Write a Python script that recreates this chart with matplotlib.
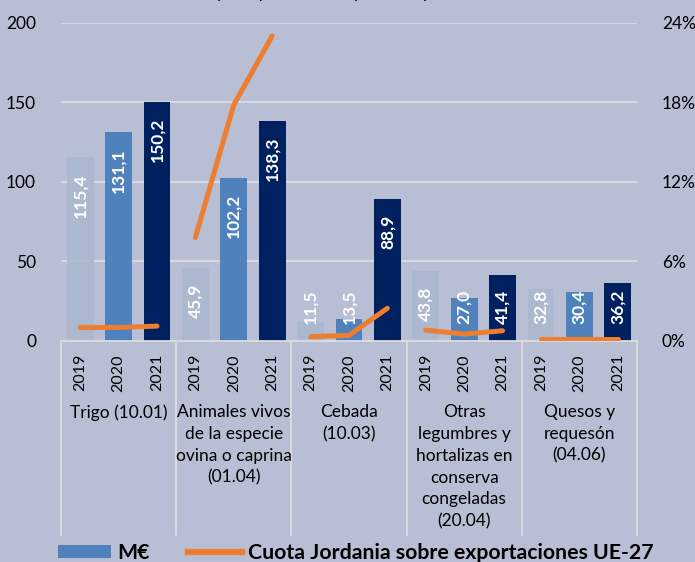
import numpy as np
import matplotlib.pyplot as plt
from matplotlib.patches import Patch
from matplotlib.lines import Line2D
import matplotlib.transforms as mtransforms

plt.rcParams['font.family'] = ['Lato', 'DejaVu Sans']

# datos
categorias = ["Trigo (10.01)",
              "Animales vivos\nde la especie\novina o caprina\n(01.04)",
              "Cebada\n(10.03)",
              "Otras\nlegumbres y\nhortalizas en\nconserva\ncongeladas\n(20.04)",
              "Quesos y\nrequesón\n(04.06)"]
anios = ["2019", "2020", "2021"]
v2019 = [115.4, 45.9, 11.5, 43.8, 32.8]
v2020 = [131.1, 102.2, 13.5, 27.0, 30.4]
v2021 = [150.2, 138.3, 88.9, 41.4, 36.2]
cuota = [[1.0, 1.0, 1.1],
         [7.8, 17.8, 23.0],
         [0.3, 0.4, 2.45],
         [0.8, 0.5, 0.75],
         [0.1, 0.1, 0.1]]

fondo = '#b8bed3'
colores = ['#a9b7cc', '#4f81bd', '#002060']
naranja = '#ed7d31'
gris = '#dcdcdc'

fig = plt.figure(figsize=(6.95, 5.62), dpi=100)
fig.patch.set_facecolor(fondo)
ax = fig.add_axes([0.0878, 0.3938, 0.8287, 0.5658])
ax.set_facecolor(fondo)

n = len(categorias)
x = np.arange(n)
off = np.array([-1/3, 0, 1/3])
w = 0.232

for k, vals in enumerate([v2019, v2020, v2021]):
    xs = x + off[k]
    ax.bar(xs, vals, width=w, color=colores[k], zorder=2,
           alpha=0.85 if k == 0 else 1)
    for xi, v in zip(xs, vals):
        ytop = max(v - 10.0, 32.0)
        ax.text(xi, ytop, f"{v:.1f}".replace('.', ','), rotation=90,
                ha='center', va='top', color='white', fontsize=12.5,
                fontweight='bold', zorder=4)

ax.set_xlim(-0.5, n - 0.5)
ax.set_ylim(0, 200)
ax.set_yticks([0, 50, 100, 150, 200])
ax.yaxis.grid(True, color=gris, linewidth=1.3, zorder=0)
ax.set_axisbelow(True)
for s in ['top', 'right', 'left']:
    ax.spines[s].set_visible(False)
ax.spines['bottom'].set_color(gris)
ax.spines['bottom'].set_linewidth(1.3)
ax.tick_params(axis='y', length=0, labelsize=12.5, pad=18)
ax.set_xticks([])

ax2 = ax.twinx()
ax2.set_ylim(0, 24)
ax2.set_yticks([0, 6, 12, 18, 24])
ax2.set_yticklabels(["0%", "6%", "12%", "18%", "24%"])
ax2.tick_params(axis='y', length=0, labelsize=12.5, pad=18)
for s in ax2.spines.values():
    s.set_visible(False)
for i in range(n):
    ax2.plot(x[i] + off, cuota[i], color=naranja, linewidth=3.6,
             solid_capstyle='round', solid_joinstyle='round', zorder=5)

# etiquetas eje x
trans = mtransforms.blended_transform_factory(ax.transData, fig.transFigure)
for i in range(n):
    for k in range(3):
        ax.text(x[i] + off[k], 1 - 354 / 562, anios[k], rotation=90,
                ha='center', va='top', fontsize=11.5, transform=trans)
    ax.text(x[i], 1 - 404 / 562, categorias[i], ha='center', va='top',
            fontsize=12.5, linespacing=1.45, transform=trans)
for b in np.arange(n + 1) - 0.5:
    ax.add_line(Line2D([b, b], [1 - 340.7 / 562, 1 - 535 / 562],
                       transform=trans, color=gris, linewidth=1.3,
                       clip_on=False))

# titulo cortado
fig.text(0.5, 1 + 2 / 562, "Gráfico 3. Principales productos exportados por la UE-27 a Jordania",
         ha='center', va='baseline', fontsize=12)

handles = [Patch(facecolor=colores[1]),
           Line2D([0], [0], color=naranja, linewidth=4.5)]
fig.legend(handles, ["M€", "Cuota Jordania sobre exportaciones UE-27"],
           loc='center', bbox_to_anchor=(0.512, 1 - 553 / 562), ncol=2,
           frameon=False, handlelength=2.5, handleheight=0.5,
           columnspacing=1.8, handletextpad=0.3, borderpad=0,
           prop={'weight': 'bold', 'size': 15.3})

fig.savefig('out.png', dpi=100, facecolor=fondo)
